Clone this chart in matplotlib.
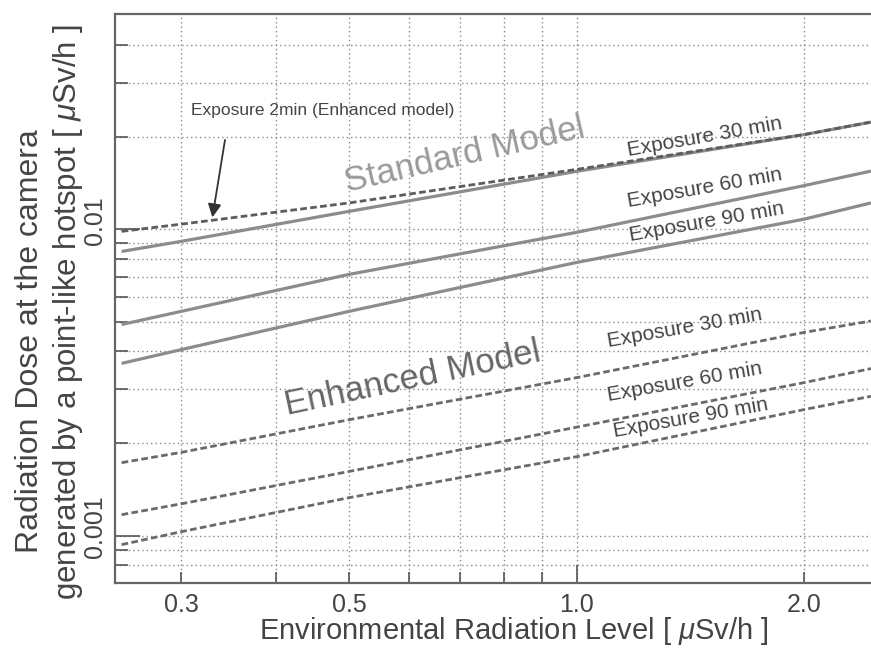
import matplotlib
matplotlib.use("Agg")
import matplotlib.pyplot as plt
from matplotlib.ticker import FixedLocator, FixedFormatter, NullFormatter
import matplotlib.transforms as mtransforms

plt.rcParams['font.family'] = ['Liberation Sans', 'DejaVu Sans']
plt.rcParams['mathtext.fontset'] = 'custom'
plt.rcParams['mathtext.it'] = 'Liberation Sans:italic'
plt.rcParams['mathtext.rm'] = 'Liberation Sans'

# ---------------- data ----------------
x_env = [0.25, 0.3, 0.5, 1.0, 2.0, 2.45]

std_30 = [0.00847, 0.00914, 0.01145, 0.01547, 0.0204, 0.0224]
std_60 = [0.00489, 0.00540, 0.00713, 0.00978, 0.0139, 0.0155]
std_90 = [0.00365, 0.00405, 0.00540, 0.00780, 0.0108, 0.0122]

enh_2 = [0.00985, 0.0104, 0.0122, 0.0157, 0.0204, 0.0224]
enh_30 = [0.00173, 0.00187, 0.00239, 0.00328, 0.00461, 0.00502]
enh_60 = [0.00117, 0.00127, 0.00162, 0.00226, 0.00316, 0.00351]
enh_90 = [0.000934, 0.00103, 0.00133, 0.00181, 0.00258, 0.00285]

x_major = [1.0]
x_minor = [0.3, 0.4, 0.5, 0.6, 0.7, 0.8, 0.9, 2.0]
x_minor_labels = ['0.3', '', '0.5', '', '', '', '', '2.0']
x_major_labels = ['1.0']

y_major = [0.001, 0.01]
y_major_labels = ['0.001', '0.01']
y_minor = [0.0008, 0.0009, 0.002, 0.003, 0.004, 0.005, 0.006, 0.007,
           0.008, 0.009, 0.02, 0.03, 0.04]

label_exposure = ['Exposure 30 min', 'Exposure 60 min', 'Exposure 90 min']

# ---------------- figure ----------------
fig = plt.figure(figsize=(8.71, 6.49), dpi=100)
ax = fig.add_axes([115/871, 66/649, 756/871, 569/649])
ax.set_xscale('log')
ax.set_yscale('log')
ax.set_xlim(0.245, 2.45)
ax.set_ylim(0.0007, 0.0505)

std_col = '#8c8c8c'
enh_col = '#6a6a6a'

for ys in (std_30, std_60, std_90):
    ax.plot(x_env, ys, color=std_col, lw=2.3, solid_capstyle='butt', zorder=3)

ax.plot(x_env, enh_2, color='#5c5c5c', lw=2.0, linestyle=(0, (2.4, 1.2)), zorder=4)
for ys in (enh_30, enh_60, enh_90):
    ax.plot(x_env, ys, color=enh_col, lw=2.0, linestyle=(0, (2.4, 1.2)), zorder=3)

# ticks
ax.xaxis.set_major_locator(FixedLocator(x_major))
ax.xaxis.set_major_formatter(FixedFormatter(x_major_labels))
ax.xaxis.set_minor_locator(FixedLocator(x_minor))
ax.xaxis.set_minor_formatter(FixedFormatter(x_minor_labels))
ax.yaxis.set_major_locator(FixedLocator(y_major))
ax.yaxis.set_major_formatter(FixedFormatter(y_major_labels))
ax.yaxis.set_minor_locator(FixedLocator(y_minor))
ax.yaxis.set_minor_formatter(NullFormatter())

tick_col = '#444444'
ax.tick_params(axis='x', which='both', direction='in', colors='#555555',
               labelcolor=tick_col, labelsize=18, pad=7, width=1.2)
ax.tick_params(axis='x', which='major', length=13)
ax.tick_params(axis='x', which='minor', length=8)
ax.tick_params(axis='y', which='both', direction='in', colors='#555555',
               labelcolor=tick_col, labelsize=18, pad=6, width=1.2)
ax.tick_params(axis='y', which='major', length=18)
ax.tick_params(axis='y', which='minor', length=9.5)
ax.tick_params(top=False, right=False, which='both')
for lab in ax.get_yticklabels():
    lab.set_rotation(90)
    lab.set_va('center')
    lab.set_transform(lab.get_transform() + mtransforms.ScaledTranslation(0, 9/100, fig.dpi_scale_trans))

ax.grid(True, which='both', linestyle=(0, (1, 2.2)), color='#888888', lw=1.0)
ax.set_axisbelow(True)

for side in ('left', 'bottom', 'top'):
    ax.spines[side].set_color('#666666')
    ax.spines[side].set_linewidth(1.6)
ax.spines['right'].set_visible(False)

fig.text(514/871, (649-631)/649, 'Environmental Radiation Level [ $\\mu$Sv/h ]',
         ha='center', va='center', fontsize=21, color=tick_col)

fig.text(30/871, (649-341)/649, 'Radiation Dose at the camera', rotation=90,
         ha='center', va='center', fontsize=23, color=tick_col)
fig.text(68/871, (649-312)/649, 'generated by a point-like hotspot [ $\\mu$Sv/h ]', rotation=90,
         ha='center', va='center', fontsize=22.5, color=tick_col)

# model labels
ax.text(0.463, 0.752, 'Standard Model', transform=ax.transAxes, rotation=13,
        ha='center', va='center', fontsize=25, color='#9a9a9a', zorder=5)
ax.text(0.394, 0.360, 'Enhanced Model', transform=ax.transAxes, rotation=12,
        ha='center', va='center', fontsize=25, color='#666666', zorder=5)

std_label_pos = [(0.780, 0.784), (0.780, 0.694), (0.783, 0.634)]
enh_label_pos = [(0.754, 0.448), (0.754, 0.353), (0.761, 0.290)]
for txt, (fx, fy) in zip(label_exposure, std_label_pos):
    ax.text(fx, fy, txt, transform=ax.transAxes, rotation=10, ha='center', va='center',
            fontsize=15, color='#444444', zorder=5)
for txt, (fx, fy) in zip(label_exposure, enh_label_pos):
    ax.text(fx, fy, txt, transform=ax.transAxes, rotation=10, ha='center', va='center',
            fontsize=15, color='#444444', zorder=5)

ax.text(0.275, 0.830, 'Exposure 2min (Enhanced model)', transform=ax.transAxes,
        ha='center', va='center', fontsize=12.5, color='#444444', zorder=5)
ax.annotate('', xy=(0.3296, 0.01094), xycoords='data',
            xytext=(0.1455, 0.7786), textcoords='axes fraction',
            arrowprops=dict(arrowstyle='-|>', color='#333333', lw=1.3,
                            mutation_scale=20, shrinkA=0, shrinkB=0), zorder=6)

fig.savefig('out.png', dpi=100)
